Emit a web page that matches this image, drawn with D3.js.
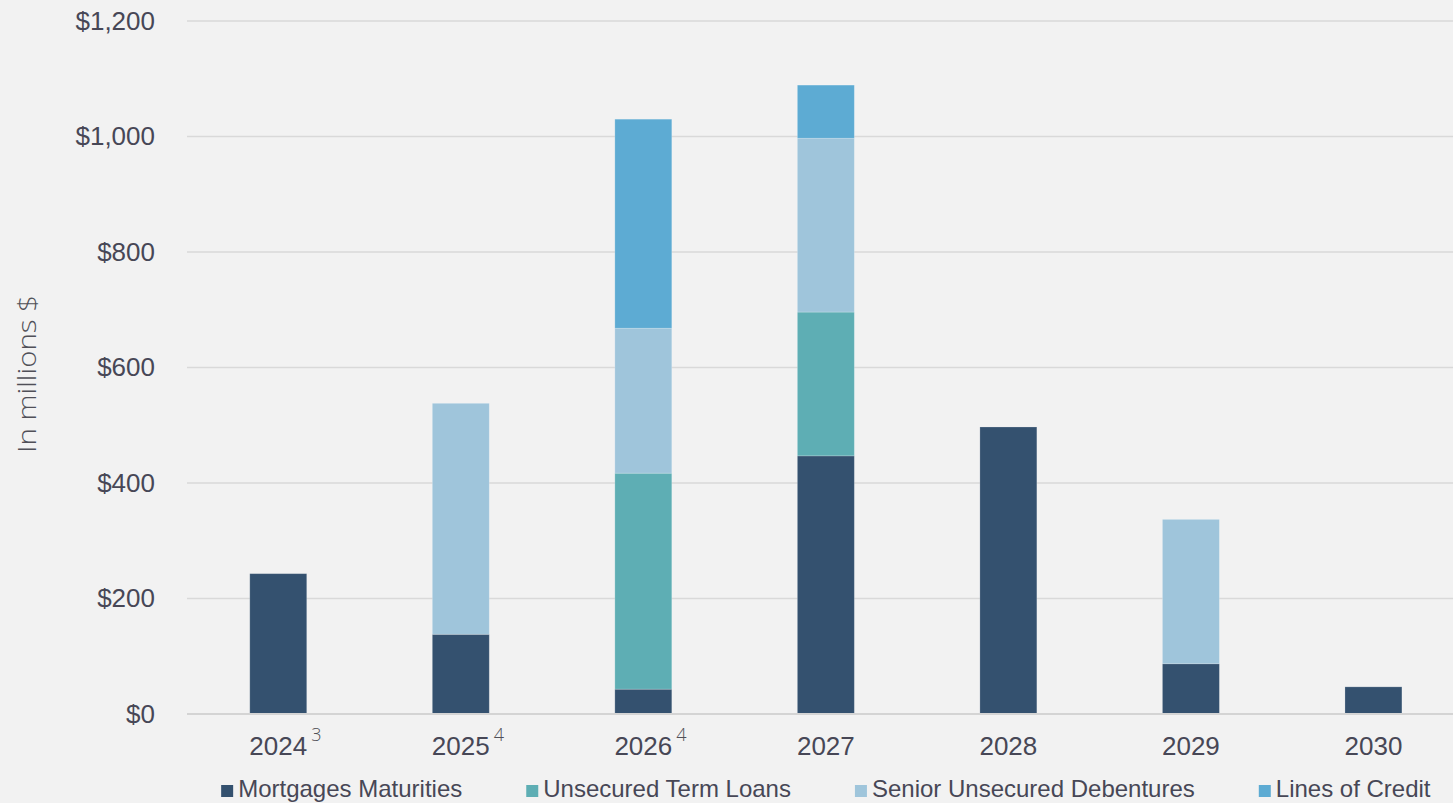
<!DOCTYPE html>
<html>
<head>
<meta charset="utf-8">
<script src="https://cdn.jsdelivr.net/npm/d3@7"></script>
<style>
  html, body { margin: 0; padding: 0; background: #f2f2f2; }
  svg { display: block; font-family: "Liberation Sans", Arial, sans-serif; }
</style>
</head>
<body>
<div id="chart"></div>
<script>
// Debt maturity profile, stacked columns by year

const years = ["2024", "2025", "2026", "2027", "2028", "2029", "2030"];
const footnotes = ["3", "4", "4", "", "", "", ""];
const seriesNames = ["Mortgages Maturities", "Unsecured Term Loans", "Senior Unsecured Debentures", "Lines of Credit"];
const seriesColors = ["#34516f", "#5eaeb4", "#9fc5db", "#5dabd3"];

const mortgages  = [243, 138, 43, 447, 497, 87, 47];
const termLoans  = [0, 0, 374, 249, 0, 0, 0];
const debentures = [0, 400, 251, 301, 0, 250, 0];
const credit     = [0, 0, 362, 92, 0, 0, 0];

const yTicks = [0, 200, 400, 600, 800, 1000, 1200];

const width = 1453, height = 803;
const margin = { top: 21, bottom: 89, left: 187 };
const textColor = "#474756";

const svg = d3.select("#chart").append("svg")
  .attr("width", width).attr("height", height);
svg.append("rect").attr("width", width).attr("height", height).attr("fill", "#f2f2f2");

const x = d3.scaleBand().domain(years)
  .range([margin.left, 1464.7])
  .paddingInner(0.688).paddingOuter(0.344);
const y = d3.scaleLinear().domain([0, 1200]).range([height - margin.bottom, margin.top]);

// gridlines
svg.append("g").selectAll("line").data(yTicks.filter(d => d > 0)).join("line")
  .attr("x1", margin.left).attr("x2", width)
  .attr("y1", d => y(d)).attr("y2", d => y(d))
  .attr("stroke", "#d9d9d9").attr("stroke-width", 1.5);

// y axis labels
const gY = svg.append("g").attr("transform", `translate(155,0)`)
  .call(d3.axisLeft(y).tickValues(yTicks).tickSize(0).tickPadding(0)
    .tickFormat(d => "$" + d3.format(",")(d)));
gY.select(".domain").remove();
gY.selectAll("text").attr("font-size", 26).attr("fill", textColor)
  .attr("font-family", "Liberation Sans, Arial, sans-serif");

// y axis title
svg.append("text")
  .attr("transform", `translate(36,374) rotate(-90)`)
  .attr("text-anchor", "middle")
  .attr("font-family", "'Open Sans', sans-serif")
  .attr("font-weight", 300)
  .attr("font-size", 25).attr("fill", "#505058")
  .attr("textLength", 158).attr("lengthAdjust", "spacingAndGlyphs")
  .text("In millions $");

// stacks
const rows = years.map((yr, i) => ({
  year: yr,
  [seriesNames[0]]: mortgages[i],
  [seriesNames[1]]: termLoans[i],
  [seriesNames[2]]: debentures[i],
  [seriesNames[3]]: credit[i]
}));
const stacked = d3.stack().keys(seriesNames)(rows);
const color = d3.scaleOrdinal().domain(seriesNames).range(seriesColors);

svg.append("g").selectAll("g").data(stacked).join("g")
  .attr("fill", d => color(d.key))
  .selectAll("rect").data(d => d.filter(p => p[1] - p[0] > 0)).join("rect")
    .attr("x", d => x(d.data.year))
    .attr("width", x.bandwidth())
    .attr("y", d => y(d[1]))
    .attr("height", d => y(d[0]) - y(d[1]))
    .attr("stroke", "rgba(255,255,255,0.25)").attr("stroke-width", 0.8);

// baseline
svg.append("line")
  .attr("x1", margin.left).attr("x2", width)
  .attr("y1", y(0)).attr("y2", y(0))
  .attr("stroke", "#d4d4d4").attr("stroke-width", 2);

// x axis labels with footnote markers
const gX = svg.append("g");
years.forEach((yr, i) => {
  const cx = x(yr) + x.bandwidth() / 2;
  const t = gX.append("text")
    .attr("x", cx).attr("y", 755)
    .attr("text-anchor", "middle")
    .attr("font-size", 26).attr("fill", textColor)
    .text(yr);
  if (footnotes[i]) {
    const w = t.node().getComputedTextLength();
    gX.append("text")
      .attr("x", cx + w / 2 + 4).attr("y", 741)
      .attr("font-family", "'Open Sans', sans-serif")
      .attr("font-weight", 300)
      .attr("font-size", 18).attr("fill", "#505058")
      .text(footnotes[i]);
  }
});

// legend, centred under the plot
const legend = svg.append("g");
const items = seriesNames.map((name, i) => {
  const g = legend.append("g");
  g.append("rect").attr("width", 12).attr("height", 12).attr("y", -12)
    .attr("fill", seriesColors[i]);
  const t = g.append("text").attr("x", 17).attr("y", 0)
    .attr("font-size", 24).attr("fill", textColor).text(name);
  return { g, w: 17 + t.node().getComputedTextLength() };
});
const gap = 64;
const total = d3.sum(items, d => d.w) + gap * (items.length - 1);
let lx = (x.range()[0] + x.range()[1]) / 2 - total / 2;
items.forEach(it => {
  it.g.attr("transform", `translate(${lx},797)`);
  lx += it.w + gap;
});
</script>
</body>
</html>
